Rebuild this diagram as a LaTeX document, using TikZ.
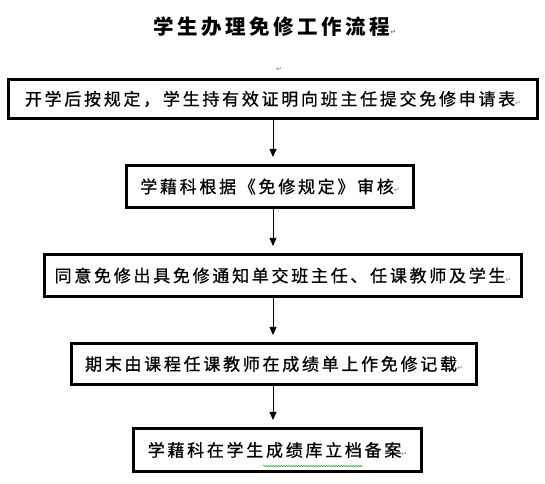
\documentclass[tikz,border=0pt]{standalone}
\usepackage{fontspec}
\usepackage{xcolor}
\usepackage{tikz}
\usetikzlibrary{arrows.meta,decorations.pathmorphing}
\newfontfamily\cjk{Noto Sans CJK SC}[LetterSpace=16,FakeBold=0.8]
\newfontfamily\cjktitle{Noto Sans CJK SC}[LetterSpace=17]
\newfontfamily\markfont{DejaVu Sans}
\newcommand{\pmark}{{\markfont\fontsize{7}{7}\selectfont\textcolor{gray}{↵}}}

\begin{document}
\begin{tikzpicture}[x=1pt,y=-1pt,
    stepbox/.style={draw,line width=2.6pt,inner sep=0pt,font=\cjk\fontsize{17}{17}\selectfont},
    flow/.style={line width=0.8pt,-{Triangle[width=7pt,length=8pt]},shorten >=7pt}]
    \useasboundingbox (0,0) rectangle (545,483);

    % Title
    \node[font=\cjktitle\bfseries\fontsize{20.5}{20.5}\selectfont] (title) at (275,27) {学生办理免修工作流程\pmark};
    \node (blank) at (279,69) {\pmark};

    % Boxes
    \node[stepbox,minimum width=529.5,minimum height=39.5] (apply) at (273,99)
        {开学后按规定，学生持有效证明向班主任提交免修申请表\pmark};
    \node[stepbox,minimum width=287.5,minimum height=42.5] (check) at (270,186.5)
        {学藉科根据《免修规定》审核\pmark};
    \node[stepbox,minimum width=477.5,minimum height=42.5] (notice) at (283,275.5)
        {同意免修出具免修通知单交班主任、任课教师及学生\pmark};
    \node[stepbox,minimum width=405.5,minimum height=41.5] (record) at (274,364)
        {期末由课程任课教师在成绩单上作免修记载\pmark};
    \node[stepbox,minimum width=288.5,minimum height=43.5] (archive) at (277.5,450)
        {学藉科在学生成绩库立档备案\pmark};

    % Arrows
    \draw[flow] (apply.south) -- (apply |- check.north);
    \draw[flow] (apply |- check.south) -- (apply |- notice.north);
    \draw[flow] (apply |- notice.south) -- (apply |- record.north);
    \draw[flow] (apply |- record.south) -- (apply |- archive.north);

    % Spelling mark
    \draw[green!60!black,line width=0.5pt,decorate,
        decoration={snake,amplitude=0.6pt,segment length=2.5pt}] (263,466) -- (363,466);
\end{tikzpicture}
\end{document}
